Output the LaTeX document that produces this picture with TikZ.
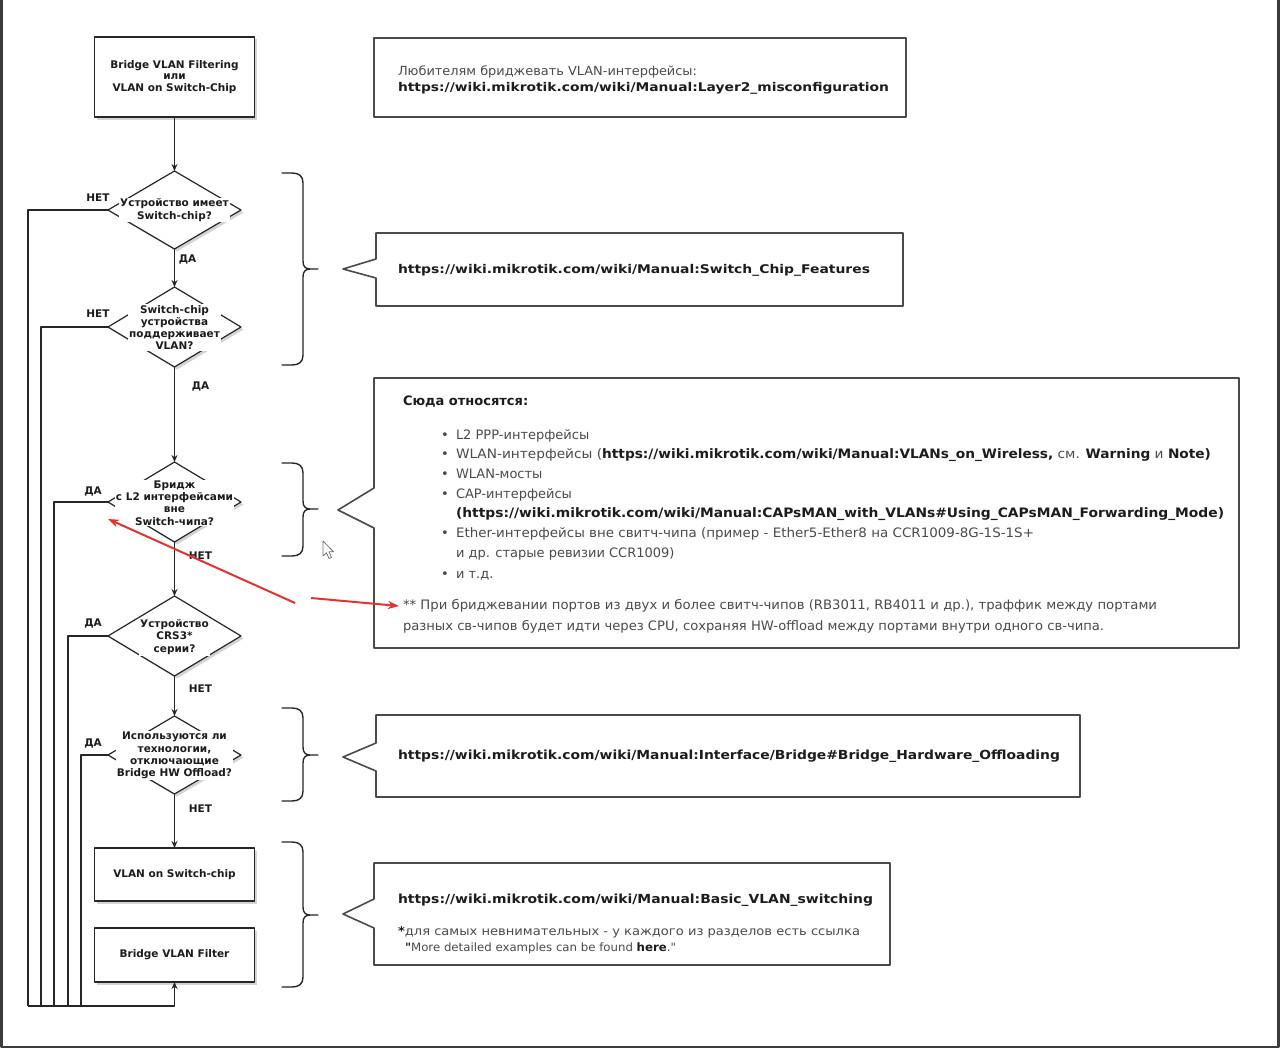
\documentclass[tikz,border=0pt]{standalone}
\usepackage{graphicx}
\usepackage{fontspec}
\setmainfont{DejaVu Sans}
\newfontfamily\qf{DejaVu Sans}
\usetikzlibrary{arrows.meta,shapes.geometric,shadows}
\definecolor{ln}{HTML}{262626}
\definecolor{tg}{HTML}{4A4A4A}
\definecolor{tb}{HTML}{1C1C1C}
\definecolor{rd}{HTML}{E23232}
\definecolor{cb}{HTML}{4A4A4A}
\definecolor{frm}{HTML}{3C3C3C}
\newcommand\myfs[2]{\fontsize{#1}{#2}\selectfont}
\newcommand\fitw[2]{\resizebox{#1pt}{\height}{#2}}
\newcommand\bk[1]{\textbf{\textcolor{tb}{#1}}}
\newcommand\bracep[3]{%
  \draw[brc] (282,#1) -- (292,#1) .. controls (299,#1) and (303,#1+3) .. (303,#1+10)
    -- (303,#2-8) .. controls (303,#2-3) and (305,#2) .. (310,#2) -- (318,#2)
    (310,#2) .. controls (305,#2) and (303,#2+3) .. (303,#2+8)
    -- (303,#3-10) .. controls (303,#3-3) and (299,#3) .. (292,#3) -- (282,#3);}
\begin{document}
\begin{tikzpicture}[x=1pt,y=-1pt,line join=round,
  pbox/.style={draw=ln,line width=1.2pt,fill=white,inner sep=0pt,outer sep=0pt,minimum width=160pt,align=center,text=tb,font=\myfs{10.5}{11.6}\bfseries,drop shadow={shadow xshift=2.5pt,shadow yshift=-2.5pt,fill=black!55,opacity=.3}},
  dia/.style={shape=diamond,draw=ln,line width=1.2pt,fill=white,inner sep=0pt,outer sep=0pt,minimum width=133pt,drop shadow={shadow xshift=2.5pt,shadow yshift=-2.5pt,fill=black!55,opacity=.3}},
  dtxt/.style={fill=white,inner sep=1.2pt,align=center,text=tb,font=\myfs{10.5}{12.2}\bfseries},
  lbl/.style={inner sep=0pt,text=tb,font=\myfs{10.5}{12}\bfseries},
  flow/.style={draw=ln,line width=1.2pt,-{Stealth[length=7pt,width=6pt]}},
  loopln/.style={draw=ln,line width=1.2pt},
  cbox/.style={inner sep=0pt,outer sep=0pt},
  cbord/.style={draw=cb,line width=1.6pt},
  brc/.style={draw=ln,line width=1.4pt,line cap=round},
  tx/.style={anchor=base west,inner sep=0pt,outer sep=0pt,text=tg,font=\myfs{13}{15}},
  ra/.style={draw=rd,line width=2pt,-{Stealth[length=11pt,width=8pt]}}
]
\useasboundingbox (0,0) rectangle (1280,1049);
\fill[white] (0,0) rectangle (1280,1049);
% window frame
\draw[draw=frm,line width=2.5pt] (1.5,-3) -- (1.5,1047) -- (1278.5,1047) -- (1278.5,-3);

% ---------- flowchart ----------
\node[pbox,minimum height=80pt] (top) at (174.5,77) {Bridge VLAN Filtering\\или\\VLAN on Switch-Chip};
\node[dia,minimum height=78pt] (d1) at (174.5,210) {};
\node[dia,minimum height=80pt] (d2) at (174.5,327) {};
\node[dia,minimum height=80pt] (d3) at (174.5,502) {};
\node[dia,minimum height=80pt] (d4) at (174.5,636) {};
\node[dia,minimum height=78pt] (d5) at (174.5,755) {};
\node[pbox,minimum height=53pt] (vsc) at (174.5,874.5) {VLAN on Switch-chip};
\node[pbox,minimum height=54pt] (bvf) at (174.5,955) {Bridge VLAN Filter};

\node[dtxt] (d1t) at (174.5,210) {Устройство имеет\\Switch-chip?};
\node[dtxt] (d2t) at (174.5,327.5) {Switch-chip\\устройства\\поддерживает\\VLAN?};
\node[dtxt] (d3t) at (174.5,503) {Бридж\\с L2 интерфейсами\\вне\\Switch-чипа?};
\node[dtxt] (d4t) at (174.5,637) {Устройство\\CRS3*\\серии?};
\node[dtxt] (d5t) at (174.5,755.5) {Используются ли\\технологии,\\отключающие\\Bridge HW Offload?};

\draw[flow] (top.south) -- (d1.north);
\draw[flow] (d1.south) -- (d2.north);
\draw[flow] (d2.south) -- (d3.north);
\draw[flow] (d3.south) -- (d4.north);
\draw[flow] (d4.south) -- (d5.north);
\draw[flow] (d5.south) -- (vsc.north);

\coordinate (l1) at (28,1006);
\coordinate (l2) at (41,1006);
\coordinate (l3) at (54,1006);
\coordinate (l4) at (68,1006);
\coordinate (l5) at (81,1006);
\draw[loopln] (d1.west) -| (l1);
\draw[loopln] (d2.west) -| (l2);
\draw[loopln] (d3.west) -| (l3);
\draw[loopln] (d4.west) -| (l4);
\draw[loopln] (d5.west) -| (l5);
\draw[flow] (l1) -| (bvf.south);

\node[lbl] (n1) at (98,198) {НЕТ};
\node[lbl] (y1) at (187.5,259) {ДА};
\node[lbl] (n2) at (98,314) {НЕТ};
\node[lbl] (y2) at (200.5,386) {ДА};
\node[lbl] (y3) at (93,491) {ДА};
\node[lbl] (n3) at (200.5,556) {НЕТ};
\node[lbl] (y4) at (93,623) {ДА};
\node[lbl] (n4) at (200.5,689) {НЕТ};
\node[lbl] (y5) at (93,743) {ДА};
\node[lbl] (n5) at (200.5,809) {НЕТ};

% ---------- braces ----------
\bracep{173}{269}{365}
\bracep{463}{509}{556}
\bracep{708}{755}{801}
\bracep{842}{915}{987}

% ---------- callouts ----------
\node[cbox,minimum width=532pt,minimum height=79pt] (c1) at (640,77.5) {};
\draw[cbord] (c1.north west) rectangle (c1.south east);
\node[tx,font=\myfs{12.5}{15}] (c1a) at (398,75.5) {\fitw{299}{Любителям бриджевать VLAN-интерфейсы:}};
\node[tx,font=\myfs{12}{15}\bfseries,text=tb] (c1b) at (398,91.5) {\fitw{491}{https://wiki.mikrotik.com/wiki/Manual:Layer2\_misconfiguration}};

\node[cbox,minimum width=527pt,minimum height=73pt] (c2) at (639.5,269.5) {};
\draw[cbord] (c2.north west) -- (c2.north east) -- (c2.south east) -- (c2.south west) -- (376,278) -- (343,269) -- (376,259) -- cycle;
\node[tx,font=\myfs{12}{15}\bfseries,text=tb] (c2a) at (398,273.5) {\fitw{472}{https://wiki.mikrotik.com/wiki/Manual:Switch\_Chip\_Features}};

\node[cbox,minimum width=865pt,minimum height=270pt] (c3) at (806.5,513) {};
\draw[cbord] (c3.north west) -- (c3.north east) -- (c3.south east) -- (c3.south west) -- (374,528) -- (338,510) -- (374,488) -- cycle;
\node[tx,font=\myfs{13}{15}\bfseries,text=tb] (c3h) at (403,405.5) {Сюда относятся:};
\node[tx] (c3a) at (441,439) {\makebox[15pt][l]{•}L2 PPP-интерфейсы};
\node[tx] (c3b) at (441,458.5) {\makebox[15pt][l]{•}\fitw{755}{WLAN-интерфейсы (\bk{https://wiki.mikrotik.com/wiki/Manual:VLANs\_on\_Wireless,} см. \bk{Warning} и \bk{Note)}}};
\node[tx] (c3c) at (441,478) {\makebox[15pt][l]{•}WLAN-мосты};
\node[tx] (c3d) at (441,498) {\makebox[15pt][l]{•}CAP-интерфейсы};
\node[tx] (c3e) at (456,517.5) {\fitw{768}{\bk{(https://wiki.mikrotik.com/wiki/Manual:CAPsMAN\_with\_VLANs\#Using\_CAPsMAN\_Forwarding\_Mode)}}};
\node[tx] (c3f) at (441,537.5) {\makebox[15pt][l]{•}\fitw{578}{Ether-интерфейсы вне свитч-чипа (пример - Ether5-Ether8 на CCR1009-8G-1S-1S+}};
\node[tx] (c3g) at (456,557.5) {и др. старые ревизии CCR1009)};
\node[tx] (c3i) at (441,578.5) {\makebox[15pt][l]{•}и т.д.};
\node[tx] (c3j) at (403,609.5) {\fitw{754}{** При бриджевании портов из двух и более свитч-чипов (RB3011, RB4011 и др.), траффик между портами}};
\node[tx] (c3k) at (403,630) {\fitw{701}{разных св-чипов будет идти через CPU, сохраняя HW-offload между портами внутри одного св-чипа.}};

\node[cbox,minimum width=704pt,minimum height=82pt] (c4) at (728,756) {};
\draw[cbord] (c4.north west) -- (c4.north east) -- (c4.south east) -- (c4.south west) -- (376,771) -- (343,757) -- (376,743) -- cycle;
\node[tx,font=\myfs{12.5}{15}\bfseries,text=tb] (c4a) at (398,759.5) {\fitw{662}{https://wiki.mikrotik.com/wiki/Manual:Interface/Bridge\#Bridge\_Hardware\_Offloading}};

\node[cbox,minimum width=516pt,minimum height=102pt] (c5) at (632,914) {};
\draw[cbord] (c5.north west) -- (c5.north east) -- (c5.south east) -- (c5.south west) -- (374,928) -- (343,914) -- (374,899) -- cycle;
\node[tx,font=\myfs{12.5}{15}\bfseries,text=tb] (c5a) at (398,903.5) {\fitw{475}{https://wiki.mikrotik.com/wiki/Manual:Basic\_VLAN\_switching}};
\node[tx,font=\myfs{12}{15}] (c5b) at (398,935) {\fitw{462}{\bk{*}для самых невнимательных - у каждого из разделов есть ссылка}};
\node[tx,font=\myfs{11.5}{15}\qf] (c5c) at (405,951) {\fitw{271}{\bk{"}More detailed examples can be found \bk{here}."}};

% ---------- red annotation arrows ----------
\coordinate (r1s) at (295,603);
\coordinate (r1e) at (108,519);
\coordinate (r2s) at (311,598);
\coordinate (r2e) at (399,606);
\draw[ra] (r1s) -- (r1e);
\draw[ra] (r2s) -- (r2e);

% ---------- mouse cursor ----------
\draw[draw=black!55,fill=white,line width=.8pt] (323,541) -- (323,556) -- (326.5,552.8) -- (329,558.5) -- (331.5,557.5) -- (329,551.8) -- (333.5,551.8) -- cycle;
\end{tikzpicture}
\end{document}
